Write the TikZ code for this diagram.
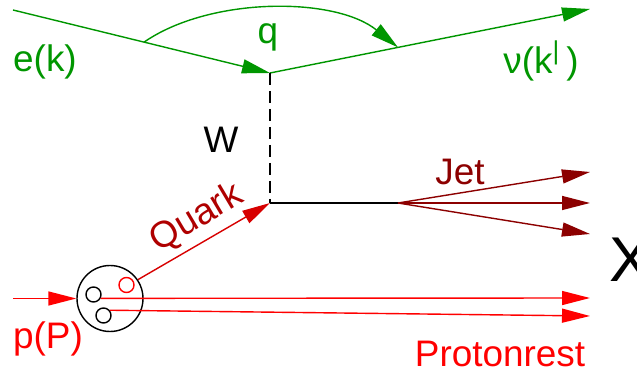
\documentclass[tikz,border=0pt]{standalone}
\usepackage{fontspec}
\setmainfont{Liberation Sans}
\usetikzlibrary{arrows.meta,calc}
\definecolor{lgreen}{RGB}{0,150,0}
\definecolor{jetred}{RGB}{140,0,0}
\definecolor{qred}{RGB}{175,0,0}
\definecolor{qline}{RGB}{215,0,0}
\tikzset{
  lab/.style={inner sep=0pt,font=\fontsize{21}{24}\selectfont},
  pl/.style={line width=0.8pt},
  pe/.style={-{Triangle[length=5.6mm,width=2.8mm]},line width=0.8pt},
  sq/.style={circle,draw,line width=0.8pt,minimum size=3mm,inner sep=0pt}
}

\begin{document}
\begin{tikzpicture}
\useasboundingbox (0,0) rectangle (12.74,7.48);
% lepton
\coordinate (ein) at (0.26,7.28);
\coordinate (V) at (5.4,6.02);
\coordinate (nuout) at (11.8,7.3);
\draw[pe,lgreen] (ein) -- (V);
\draw[pe,lgreen] (V) -- (nuout);
\coordinate (qa) at ($(ein)!0.51!(V)$);
\coordinate (qb) at ($(V)!0.4!(nuout)$);
\draw[pe,lgreen] (qa) .. controls (4.2,7.55) and (6.7,7.55) .. (qb);
\node[lab,lgreen] (ek) at (0.9,6.24) {e(k)};
\node[lab,lgreen] (q) at (5.36,6.74) {q};
\node[lab,lgreen] (nu) at (10.82,6.26) {ν(k\textsuperscript{|}\,)};
% W
\coordinate (Q) at (5.4,3.42);
\draw[pl,dash pattern=on 0.24cm off 0.12cm] (V) -- (Q);
\node[lab] (W) at (4.42,4.68) {W};
% jet
\coordinate (J) at (7.96,3.42);
\coordinate (j1) at (11.8,4.04);
\coordinate (j2) at (11.8,3.42);
\coordinate (j3) at (11.8,2.80);
\draw[pl] (Q) -- (J);
\draw[pe,jetred] (J) -- (j1);
\draw[pe,jetred] (J) -- (j2);
\draw[pe,jetred] (J) -- (j3);
\node[lab,jetred] (jet) at (9.2,4.04) {Jet};
\node[inner sep=0pt,font=\fontsize{36}{40}\selectfont] (X) at (12.62,2.29) {X};
% proton
\node[circle,draw,pl,minimum size=13.2mm,inner sep=0pt] (P) at (2.2,1.51) {};
\node[sq] (s1) at (1.87,1.59) {};
\node[sq] (s2) at (2.07,1.17) {};
\node[sq,draw=red] (s3) at (2.53,1.78) {};
\coordinate (pin) at (0.26,1.51);
\coordinate (rest1) at (11.8,1.52);
\coordinate (rest2) at (11.8,1.16);
\draw[pe,red] (pin) -- (P.west);
\draw[pe,red] (s1.-28) -- (rest1);
\draw[pe,red] (s2.40) -- (rest2);
\draw[pe,qline] (P.34) -- (Q);
\node[lab,qred,rotate=30.7] (quark) at (3.94,3.12) {Quark};
\node[lab,red] (pP) at (0.96,0.7) {p(P)};
\node[lab,red] (rest) at (10.0,0.4) {Protonrest};
\end{tikzpicture}
\end{document}
